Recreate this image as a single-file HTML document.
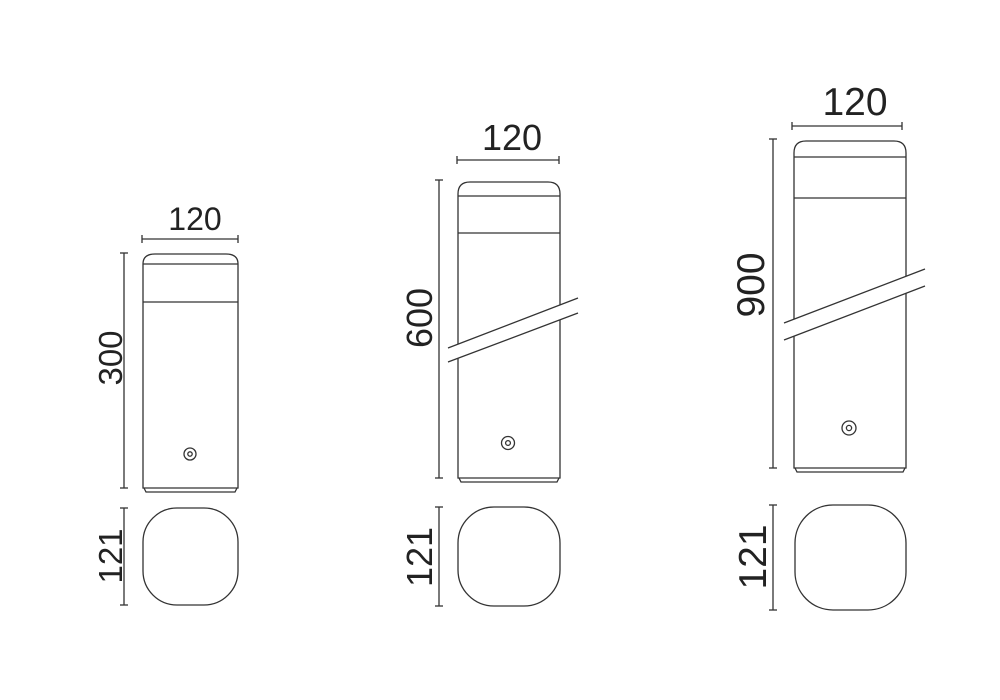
<!DOCTYPE html>
<html><head><style>html,body{margin:0;padding:0;background:#fff;width:1000px;height:700px;overflow:hidden}</style></head>
<body>
<svg width="1000" height="700" viewBox="0 0 1000 700" xmlns="http://www.w3.org/2000/svg" font-family="Liberation Sans, sans-serif" fill="none" stroke="#333" stroke-width="1.3">
<!-- Fixture 1 -->
<g>
<line x1="142" y1="239" x2="238" y2="239"/><line x1="142" y1="235" x2="142" y2="243"/><line x1="238" y1="235" x2="238" y2="243"/>
<text x="195" y="230" font-size="32" fill="#222" stroke="none" text-anchor="middle">120</text>
<line x1="124" y1="253" x2="124" y2="488"/><line x1="120" y1="253" x2="128" y2="253"/><line x1="120" y1="488" x2="128" y2="488"/>
<text transform="translate(122,358) rotate(-90)" font-size="33" fill="#222" stroke="none" text-anchor="middle">300</text>
<path d="M143 488 V264 Q143 254 155 254 H226 Q238 254 238 264 V488 Z"/>
<line x1="143" y1="264" x2="238" y2="264"/><line x1="143" y1="302" x2="238" y2="302"/>
<path d="M144 488 L146 492 H235 L237 488"/>
<circle cx="190" cy="454" r="6"/><circle cx="190" cy="454" r="2.2"/>
<line x1="124" y1="508" x2="124" y2="605"/><line x1="120" y1="508" x2="128" y2="508"/><line x1="120" y1="605" x2="128" y2="605"/>
<text transform="translate(122,556) rotate(-90)" font-size="33" fill="#222" stroke="none" text-anchor="middle">121</text>
<rect x="143" y="508" width="95" height="97" rx="34"/>
</g>
<!-- Fixture 2 -->
<g>
<line x1="457" y1="160" x2="559" y2="160"/><line x1="457" y1="156" x2="457" y2="164"/><line x1="559" y1="156" x2="559" y2="164"/>
<text x="512" y="150" font-size="36" fill="#222" stroke="none" text-anchor="middle">120</text>
<line x1="439" y1="180" x2="439" y2="478"/><line x1="435" y1="180" x2="443" y2="180"/><line x1="435" y1="478" x2="443" y2="478"/>
<text transform="translate(432,318) rotate(-90)" font-size="36" fill="#222" stroke="none" text-anchor="middle">600</text>
<path d="M458 478 V194 Q458 182 470 182 H548 Q560 182 560 194 V478 Z"/>
<line x1="458" y1="196" x2="560" y2="196"/><line x1="458" y1="233" x2="560" y2="233"/>
<path d="M459 478 L461 482 H557 L559 478"/>
<polygon points="448,348 578,298 578,313 448,362" fill="#fff" stroke="none"/>
<line x1="448" y1="348" x2="578" y2="298"/><line x1="448" y1="362" x2="578" y2="313"/>
<circle cx="508" cy="443" r="6.5"/><circle cx="508" cy="443" r="2.4"/>
<line x1="439" y1="507" x2="439" y2="606"/><line x1="435" y1="507" x2="443" y2="507"/><line x1="435" y1="606" x2="443" y2="606"/>
<text transform="translate(432,557) rotate(-90)" font-size="36" fill="#222" stroke="none" text-anchor="middle">121</text>
<rect x="458" y="507" width="102" height="99" rx="36"/>
</g>
<!-- Fixture 3 -->
<g>
<line x1="792" y1="126" x2="902" y2="126"/><line x1="792" y1="122" x2="792" y2="130"/><line x1="902" y1="122" x2="902" y2="130"/>
<text x="855" y="115" font-size="39" fill="#222" stroke="none" text-anchor="middle">120</text>
<line x1="773" y1="139" x2="773" y2="468"/><line x1="769" y1="139" x2="777" y2="139"/><line x1="769" y1="468" x2="777" y2="468"/>
<text transform="translate(764,285) rotate(-90)" font-size="39" fill="#222" stroke="none" text-anchor="middle">900</text>
<path d="M794 468 V153 Q794 141 806 141 H894 Q906 141 906 153 V468 Z"/>
<line x1="794" y1="157" x2="906" y2="157"/><line x1="794" y1="198" x2="906" y2="198"/>
<path d="M795 468 L797 472 H903 L905 468"/>
<polygon points="784,323 925,269 925,286 784,340" fill="#fff" stroke="none"/>
<line x1="784" y1="323" x2="925" y2="269"/><line x1="784" y1="340" x2="925" y2="286"/>
<circle cx="849" cy="428" r="7"/><circle cx="849" cy="428" r="2.6"/>
<line x1="773" y1="505" x2="773" y2="610"/><line x1="769" y1="505" x2="777" y2="505"/><line x1="769" y1="610" x2="777" y2="610"/>
<text transform="translate(766,557) rotate(-90)" font-size="39" fill="#222" stroke="none" text-anchor="middle">121</text>
<rect x="795" y="505" width="111" height="105" rx="38"/>
</g>
</svg>
</body></html>
